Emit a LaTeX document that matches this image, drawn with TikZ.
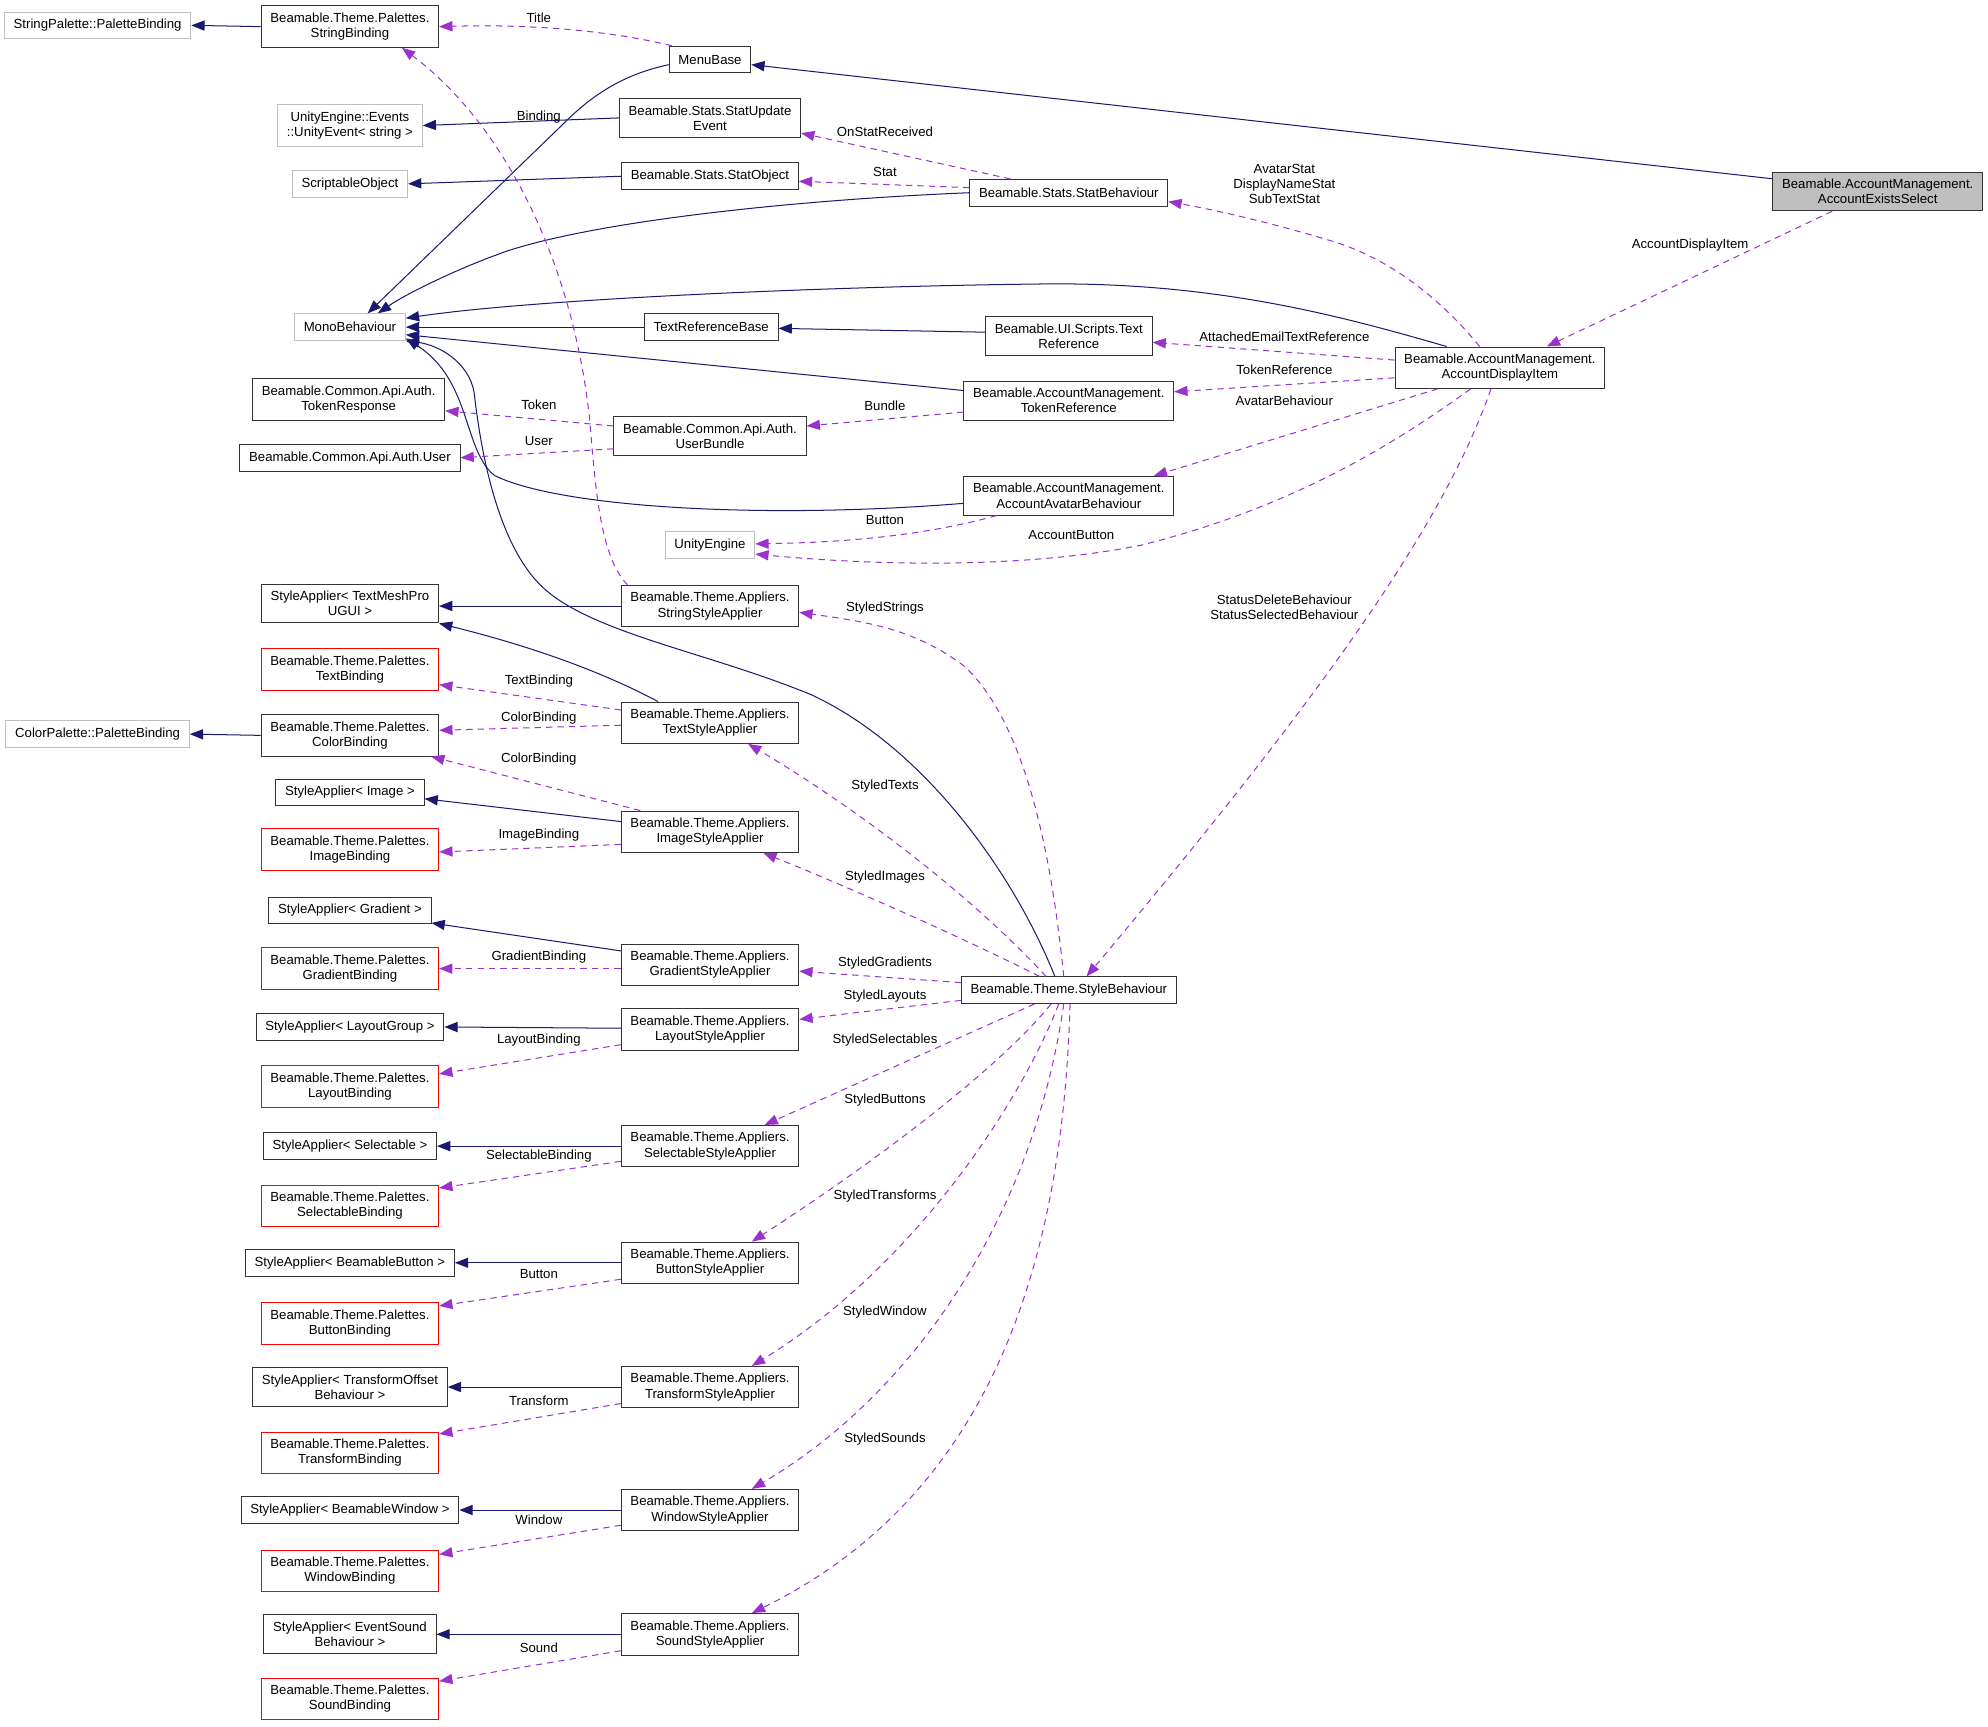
\documentclass[tikz,border=0pt]{standalone}
\usepackage{fontspec}
\setmainfont{Liberation Sans}
\usetikzlibrary{arrows.meta}
\definecolor{azulherencia}{HTML}{191970}
\definecolor{moradouso}{HTML}{9A32CD}
\definecolor{grisext}{HTML}{BFBFBF}

\begin{document}
\begin{tikzpicture}[x=1pt,y=-1pt,
    font=\fontsize{10.4}{12}\selectfont,
    clase/.style={draw=black!80, line width=0.7pt, fill=white, align=center,
                  inner xsep=7.3pt, inner ysep=5.5pt, minimum height=21pt},
    externa/.style={clase, draw=grisext},
    roja/.style={clase, draw=red},
    hereda/.style={azulherencia, line width=0.8pt, -{Triangle[length=10.5pt,width=8pt]}},
    usa/.style={moradouso, line width=0.8pt, dash pattern=on 5pt off 4pt,
                -{Triangle[length=10.5pt,width=8pt]}},
    etiq/.style={inner sep=0pt, align=center, text=black}]
  \useasboundingbox (0,0) rectangle (1568,1362);

  % Clases externas de la izquierda
  \node[externa] (strpal) at (77,20) {StringPalette::PaletteBinding};
  \node[externa] (colpal) at (77,579) {ColorPalette::PaletteBinding};

  % Segunda columna: bases y bindings
  \node[clase] (strbind) at (276,21) {Beamable.Theme.Palettes.\\StringBinding};
  \node[externa] (unityev) at (276,99) {UnityEngine::Events\\::UnityEvent< string >};
  \node[externa] (scriptobj) at (276,145) {ScriptableObject};
  \node[externa] (mono) at (276,258) {MonoBehaviour};
  \node[clase] (tokresp) at (275,315) {Beamable.Common.Api.Auth.\\TokenResponse};
  \node[clase] (authuser) at (276,361) {Beamable.Common.Api.Auth.User};
  \node[clase] (satmp) at (276,476) {StyleApplier< TextMeshPro\\UGUI >};
  \node[roja] (textbind) at (276,528) {Beamable.Theme.Palettes.\\TextBinding};
  \node[clase] (colorbind) at (276,580) {Beamable.Theme.Palettes.\\ColorBinding};
  \node[clase] (saimage) at (276,625) {StyleApplier< Image >};
  \node[roja] (imagebind) at (276,670) {Beamable.Theme.Palettes.\\ImageBinding};
  \node[clase] (sagrad) at (276,718) {StyleApplier< Gradient >};
  \node[roja] (gradbind) at (276,764) {Beamable.Theme.Palettes.\\GradientBinding};
  \node[clase] (salayout) at (276,810) {StyleApplier< LayoutGroup >};
  \node[roja] (layoutbind) at (276,857) {Beamable.Theme.Palettes.\\LayoutBinding};
  \node[clase] (sasel) at (276,904) {StyleApplier< Selectable >};
  \node[roja] (selbind) at (276,951) {Beamable.Theme.Palettes.\\SelectableBinding};
  \node[clase] (sabutton) at (276,996) {StyleApplier< BeamableButton >};
  \node[roja] (buttonbind) at (276,1044) {Beamable.Theme.Palettes.\\ButtonBinding};
  \node[clase] (satrans) at (276,1094) {StyleApplier< TransformOffset\\Behaviour >};
  \node[roja] (transbind) at (276,1146) {Beamable.Theme.Palettes.\\TransformBinding};
  \node[clase] (sawindow) at (276,1191) {StyleApplier< BeamableWindow >};
  \node[roja] (windowbind) at (276,1239) {Beamable.Theme.Palettes.\\WindowBinding};
  \node[clase] (sasound) at (276,1289) {StyleApplier< EventSound\\Behaviour >};
  \node[roja] (soundbind) at (276,1340) {Beamable.Theme.Palettes.\\SoundBinding};

  % Tercera columna
  \node[clase] (menubase) at (560,47) {MenuBase};
  \node[clase] (statupd) at (560,93) {Beamable.Stats.StatUpdate\\Event};
  \node[clase] (statobj) at (560,139) {Beamable.Stats.StatObject};
  \node[clase] (trb) at (561,258) {TextReferenceBase};
  \node[clase] (userbundle) at (560,344) {Beamable.Common.Api.Auth.\\UserBundle};
  \node[externa] (unityeng) at (560,430) {UnityEngine};
  \node[clase] (stringsa) at (560,478) {Beamable.Theme.Appliers.\\StringStyleApplier};
  \node[clase] (textsa) at (560,570) {Beamable.Theme.Appliers.\\TextStyleApplier};
  \node[clase] (imagesa) at (560,656) {Beamable.Theme.Appliers.\\ImageStyleApplier};
  \node[clase] (gradsa) at (560,761) {Beamable.Theme.Appliers.\\GradientStyleApplier};
  \node[clase] (layoutsa) at (560,812) {Beamable.Theme.Appliers.\\LayoutStyleApplier};
  \node[clase] (selsa) at (560,904) {Beamable.Theme.Appliers.\\SelectableStyleApplier};
  \node[clase] (buttonsa) at (560,996) {Beamable.Theme.Appliers.\\ButtonStyleApplier};
  \node[clase] (transsa) at (560,1094) {Beamable.Theme.Appliers.\\TransformStyleApplier};
  \node[clase] (windowsa) at (560,1191) {Beamable.Theme.Appliers.\\WindowStyleApplier};
  \node[clase] (soundsa) at (560,1289) {Beamable.Theme.Appliers.\\SoundStyleApplier};

  % Cuarta columna y clase principal
  \node[clase] (statbeh) at (843,152) {Beamable.Stats.StatBehaviour};
  \node[clase] (textref) at (843,265) {Beamable.UI.Scripts.Text\\Reference};
  \node[clase] (tokref) at (843,316) {Beamable.AccountManagement.\\TokenReference};
  \node[clase] (aab) at (843,391) {Beamable.AccountManagement.\\AccountAvatarBehaviour};
  \node[clase] (sb) at (843,781) {Beamable.Theme.StyleBehaviour};
  \node[clase] (adi) at (1183,290) {Beamable.AccountManagement.\\AccountDisplayItem};
  \node[clase, fill=grisext] (aes) at (1481,151) {Beamable.AccountManagement.\\AccountExistsSelect};

  % Herencia (azul)
  \draw[hereda] (strbind.west) -- (strpal.east);
  \draw[hereda] (colorbind.west) -- (colpal.east);
  \draw[hereda] ([yshift=10pt]aes.west) -- ([yshift=-4pt]menubase.east);
  \draw[hereda] ([yshift=-4pt]menubase.west) .. controls (495,58) and (470,72) .. (445,97)
                -- ([xshift=14pt]mono.north);
  \draw[hereda] (statupd.west) -- (unityev.east);
  \draw[hereda] (statobj.west) -- (scriptobj.east);
  \draw[hereda] (statbeh.west) .. controls (620,158) and (470,175) .. (400,198)
                .. controls (360,212) and (320,232) .. ([xshift=22pt]mono.north);
  \draw[hereda] ([xshift=-42pt]adi.north) .. controls (1060,250) and (960,222) .. (820,224)
                .. controls (650,226) and (420,236) .. ([yshift=7pt]mono.east);
  \draw[hereda] (trb.west) -- (mono.east);
  \draw[hereda] ([yshift=3pt]textref.west) -- ([yshift=-1pt]trb.east);
  \draw[hereda] ([yshift=8pt]tokref.west) -- ([yshift=-6pt]mono.east);
  \draw[hereda] ([yshift=-6pt]aab.west) .. controls (600,410) and (440,400) .. (390,375)
                .. controls (365,355) and (372,300) .. ([yshift=2pt]mono.south east);
  \draw[hereda] ([xshift=-11pt]sb.north) .. controls (800,690) and (730,590) .. (640,548)
                .. controls (560,515) and (470,500) .. (430,465)
                .. controls (390,430) and (378,345) .. (374,310)
                .. controls (370,285) and (345,272) .. (mono.south east);
  \draw[hereda] (stringsa.west) -- (stringsa.west -| satmp.east);
  \draw[hereda] ([xshift=-41pt]textsa.north) .. controls (490,538) and (440,515) .. (satmp.south east);
  \draw[hereda] ([yshift=8pt]imagesa.west) -- ([yshift=-5pt]saimage.east);
  \draw[hereda] ([yshift=11pt]gradsa.west) -- ([yshift=-10pt]sagrad.east);
  \draw[hereda] ([yshift=1pt]layoutsa.west) -- (salayout.east);
  \draw[hereda] (selsa.west) -- (sasel.east);
  \draw[hereda] (buttonsa.west) -- (sabutton.east);
  \draw[hereda] (transsa.west) -- (satrans.east);
  \draw[hereda] (windowsa.west) -- (sawindow.east);
  \draw[hereda] (soundsa.west) -- (sasound.east);

  % Uso (morado, discontinuo)
  \draw[usa] ([xshift=-30pt]menubase.north) .. controls (480,24) and (420,19) .. (strbind.east)
             node[etiq] at (425,14) {Title};
  \draw[usa] ([xshift=-65pt]stringsa.north) .. controls (474,440) and (470,390) .. (465,330)
             .. controls (452,210) and (400,100) .. ([xshift=41pt]strbind.south)
             node[etiq] at (425,92) {Binding};
  \draw[usa] ([xshift=-46pt]statbeh.north) -- ([yshift=-12pt]statupd.east)
             node[etiq] at (698,104) {OnStatReceived};
  \draw[usa] ([yshift=4pt]statbeh.west) -- ([yshift=-4pt]statobj.east)
             node[etiq] at (698,136) {Stat};
  \draw[usa] ([xshift=-16pt]adi.north) .. controls (1140,240) and (1100,205) .. (1050,190)
             .. controls (1000,175) and (960,166) .. ([yshift=-7pt]statbeh.east)
             node[etiq] at (1013,145) {AvatarStat\\DisplayNameStat\\SubTextStat};
  \draw[usa] ([xshift=-36pt]aes.south) -- ([xshift=37pt]adi.north)
             node[etiq] at (1333,193) {AccountDisplayItem};
  \draw[usa] ([yshift=6pt]adi.west) -- ([yshift=-5pt]textref.east)
             node[etiq] at (1013,266) {AttachedEmailTextReference};
  \draw[usa] ([yshift=-8pt]adi.west) -- ([yshift=7pt]tokref.east)
             node[etiq] at (1013,292) {TokenReference};
  \draw[usa] ([xshift=-49pt]adi.south) -- ([xshift=67pt]aab.north)
             node[etiq] at (1013,316) {AvatarBehaviour};
  \draw[usa] ([xshift=-23pt]adi.south) .. controls (1100,350) and (1020,400) .. (900,430)
             .. controls (800,450) and (680,445) .. ([yshift=-7pt]unityeng.east)
             node[etiq] at (845,422) {AccountButton};
  \draw[usa] ([xshift=-57pt]aab.south) .. controls (720,425) and (650,428) .. ([yshift=1pt]unityeng.east)
             node[etiq] at (698,410) {Button};
  \draw[usa] ([yshift=-9pt]tokref.west) -- ([yshift=8pt]userbundle.east)
             node[etiq] at (698,320) {Bundle};
  \draw[usa] ([yshift=8pt]userbundle.west) -- ([yshift=-9pt]tokresp.east)
             node[etiq] at (425,319) {Token};
  \draw[usa] ([yshift=-10pt]userbundle.west) -- (authuser.east)
             node[etiq] at (425,348) {User};
  \draw[usa] ([xshift=-7pt]adi.south) .. controls (1140,410) and (1050,540) .. ([xshift=14pt]sb.north)
             node[etiq] at (1013,479) {StatusDeleteBehaviour\\StatusSelectedBehaviour};

  % Campos de StyleBehaviour
  \draw[usa] ([xshift=-4pt]sb.north) .. controls (830,680) and (810,570) .. (760,525)
             .. controls (720,495) and (680,490) .. ([yshift=-5pt]stringsa.east)
             node[etiq] at (698,480) {StyledStrings};
  \draw[usa] ([xshift=-18pt]sb.north) .. controls (770,710) and (680,640) .. ([xshift=30pt]textsa.south)
             node[etiq] at (698,620) {StyledTexts};
  \draw[usa] ([xshift=-23pt]sb.north) .. controls (760,740) and (670,700) .. ([xshift=42pt]imagesa.south)
             node[etiq] at (698,692) {StyledImages};
  \draw[usa] ([yshift=6pt]sb.west) -- ([yshift=-5pt]gradsa.east)
             node[etiq] at (698,760) {StyledGradients};
  \draw[usa] ([yshift=-8pt]sb.west) -- ([yshift=8pt]layoutsa.east)
             node[etiq] at (698,786) {StyledLayouts};
  \draw[usa] ([xshift=-27pt]sb.south) -- ([xshift=43pt]selsa.north)
             node[etiq] at (698,820) {StyledSelectables};
  \draw[usa] ([xshift=-14pt]sb.south) .. controls (790,840) and (700,910) .. ([xshift=33pt]buttonsa.north)
             node[etiq] at (698,868) {StyledButtons};
  \draw[usa] ([xshift=-8pt]sb.south) .. controls (805,870) and (720,1000) .. ([xshift=33pt]transsa.north)
             node[etiq] at (698,943) {StyledTransforms};
  \draw[usa] ([xshift=-4pt]sb.south) .. controls (815,960) and (720,1100) .. ([xshift=33pt]windowsa.north)
             node[etiq] at (698,1035) {StyledWindow};
  \draw[usa] ([xshift=1pt]sb.south) .. controls (838,1000) and (780,1180) .. ([xshift=33pt]soundsa.north)
             node[etiq] at (698,1135) {StyledSounds};

  % Bindings de los appliers
  \draw[usa] ([yshift=10pt]textsa.west) -- ([yshift=-12pt]textbind.east)
             node[etiq] at (425,537) {TextBinding};
  \draw[usa] ([yshift=-2pt]textsa.west) -- ([yshift=4pt]colorbind.east)
             node[etiq] at (425,566) {ColorBinding};
  \draw[usa] ([xshift=-55pt]imagesa.north) -- ([xshift=64pt]colorbind.south)
             node[etiq] at (425,599) {ColorBinding};
  \draw[usa] ([yshift=-10pt]imagesa.west) -- ([yshift=-2pt]imagebind.east)
             node[etiq] at (425,659) {ImageBinding};
  \draw[usa] ([yshift=-3pt]gradsa.west) -- (gradbind.east)
             node[etiq] at (425,755) {GradientBinding};
  \draw[usa] ([yshift=-12pt]layoutsa.west) -- ([yshift=10pt]layoutbind.east)
             node[etiq] at (425,820) {LayoutBinding};
  \draw[usa] ([yshift=-12pt]selsa.west) -- ([yshift=14pt]selbind.east)
             node[etiq] at (425,912) {SelectableBinding};
  \draw[usa] ([yshift=-13pt]buttonsa.west) -- ([yshift=14pt]buttonbind.east)
             node[etiq] at (425,1005) {Button};
  \draw[usa] ([yshift=-13pt]transsa.west) -- ([yshift=15pt]transbind.east)
             node[etiq] at (425,1105) {Transform};
  \draw[usa] ([yshift=-12pt]windowsa.west) -- ([yshift=13pt]windowbind.east)
             node[etiq] at (425,1199) {Window};
  \draw[usa] ([yshift=-13pt]soundsa.west) -- ([yshift=14pt]soundbind.east)
             node[etiq] at (425,1300) {Sound};
\end{tikzpicture}
\end{document}
